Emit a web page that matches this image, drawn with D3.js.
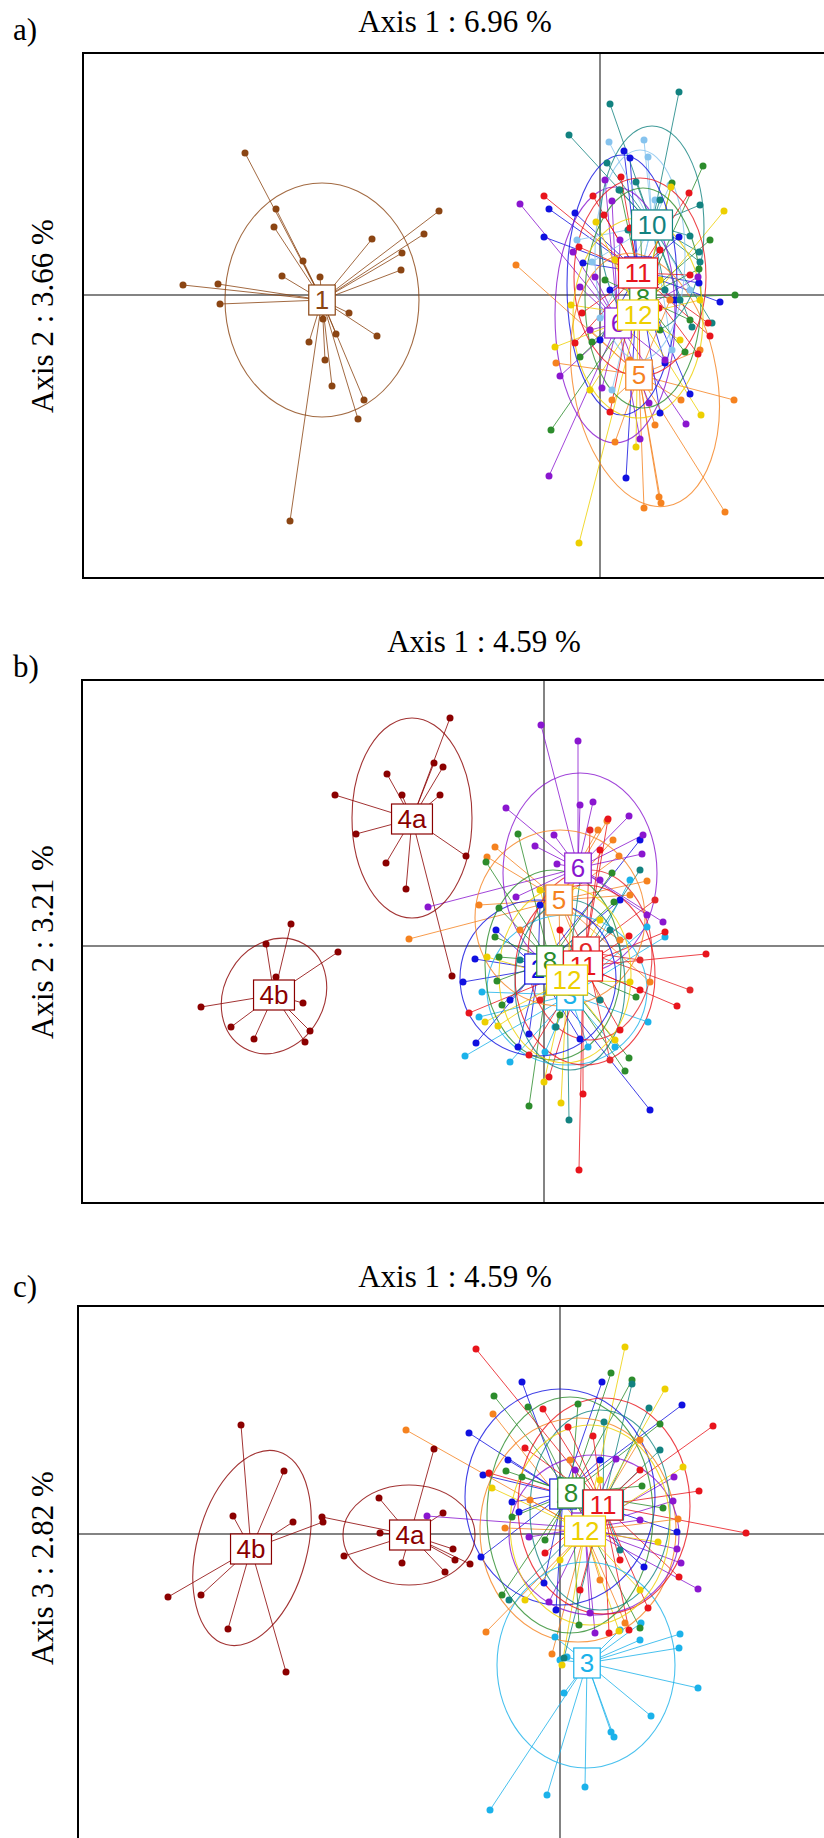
<!DOCTYPE html>
<html>
<head>
<meta charset="utf-8">
<script src="https://cdn.jsdelivr.net/npm/d3@7"></script>
<style>
  body { margin: 0; background: #fff; }
  .ttl { font-family: "Liberation Serif", "Times New Roman", serif; font-size: 31px; fill: #000; }
  .lab text { font-family: "Liberation Sans", Arial, sans-serif; font-size: 26px; }
</style>
</head>
<body>
<script>
// colours of the groups
var colours = {"1":"#8B4513","2":"#1010E0","3":"#1BB2EA","4a":"#8B0000","4b":"#8B0000","5":"#F5821F",
  "6":"#8A16CF","7":"#86C3EE","8":"#2C8C2C","9":"#E3262A","10":"#128280","11":"#E8141C","12":"#EDCF00"};

// ---------- a) Axis 1 / Axis 2 ----------
var groupsA = ["1","2","5","6","7","8","10","11","12"];
var centroidsA = [[-2.78,-0.05],[0.38,0.23],[0.39,-0.80],[0.18,-0.28],[0.52,0.70],[0.43,-0.03],[0.52,0.70],[0.38,0.22],[0.38,-0.20]];
var ellipsesA = [[-2.78,-0.05,0.97,1.17,0],[0.22,0.10,0.55,1.30,0],[0.45,-0.85,0.72,1.28,-10],[0.15,-0.20,0.60,1.28,0],
  [0.40,0.40,0.45,1.05,0],[0.43,-0.03,0.58,1.10,0],[0.52,0.67,0.52,1.02,0],[0.40,0.18,0.66,0.99,0],[0.38,-0.23,0.65,1.00,0]];
var pointsA = [
  [[-3.55,1.42],[-3.24,0.86],[-3.26,0.68],[-2.97,0.34],[-3.18,0.19],[-2.80,0.18],[-2.28,0.56],[-1.98,0.42],[-1.99,0.25],
   [-4.17,0.10],[-3.82,0.11],[-3.80,-0.09],[-2.51,-0.18],[-2.23,-0.41],[-2.77,-0.24],[-2.64,-0.39],[-2.91,-0.47],[-2.75,-0.65],
   [-2.68,-0.91],[-2.36,-1.05],[-2.42,-1.24],[-1.61,0.84],[-1.76,0.61],[-3.10,-2.26]],
  [[0.24,1.44],[0.30,1.37],[-0.51,0.86],[-0.25,0.82],[-0.56,0.58],[-0.17,0.32],[0.79,0.58],[0.99,0.12],[1.20,-0.07],
   [0.90,-0.99],[0.60,-1.18],[0.65,-0.68],[0.26,-1.83],[0.00,-0.45],[0.50,-0.25],[0.10,0.05],[0.75,-0.05]],
  [[-0.84,0.30],[-0.44,-0.68],[0.12,-1.05],[0.81,-1.05],[1.34,-1.05],[0.15,-1.47],[0.55,-1.30],[0.44,-2.13],[0.59,-2.02],
   [0.61,-2.08],[1.25,-2.17],[-0.10,-0.35],[0.70,-0.05],[1.00,-0.55],[0.30,-0.65]],
  [[-0.80,0.91],[0.05,1.15],[0.12,0.94],[-0.27,0.43],[-0.20,0.08],[-0.05,0.18],[-0.40,-0.81],[0.02,-0.93],[0.86,-1.29],
   [0.49,-1.08],[0.98,0.18],[0.40,-1.44],[-0.51,-1.81],[0.20,0.55],[0.65,-0.65],[-0.10,-0.35]],
  [[0.09,1.53],[0.44,1.55],[0.48,1.38],[0.70,1.10],[-0.23,0.55],[-0.08,0.33],[0.55,0.95],[0.40,0.20],[0.12,-0.95],
   [0.00,-0.23],[0.72,-0.55],[0.90,0.05]],
  [[1.03,1.29],[0.72,1.12],[0.20,1.05],[0.99,0.26],[1.35,0.00],[0.85,-0.57],[-0.08,-0.47],[-0.49,-1.35],[-0.20,-0.62],
   [0.40,0.80],[1.10,0.55],[0.05,0.15],[0.60,-0.35],[0.90,-0.25]],
  [[0.79,2.03],[0.10,1.91],[-0.31,1.60],[0.07,1.32],[0.19,1.05],[0.36,1.13],[0.60,0.95],[0.99,0.43],[1.00,0.33],
   [1.12,-0.28],[0.92,-0.32],[0.80,-0.05],[0.65,0.05],[0.90,0.59],[0.28,0.65],[1.00,0.90]],
  [[-0.56,0.99],[-0.07,0.99],[0.21,1.18],[0.89,1.02],[0.04,0.80],[1.08,-0.28],[1.10,-0.41],[0.98,-0.59],[0.10,-1.17],
   [-0.25,-0.48],[-0.21,0.48],[0.59,-0.13],[-0.18,-0.18],[0.60,0.45],[0.30,0.67],[0.90,0.20],[0.40,-0.70]],
  [[1.24,0.84],[0.71,1.08],[-0.04,0.73],[-0.45,-0.52],[-0.29,-0.10],[1.01,-1.20],[0.36,-1.52],[-0.21,-2.48],[0.80,-0.45],
   [0.15,0.35],[0.60,0.15],[1.00,-0.05],[-0.10,-0.95]]
];

// ---------- b) Axis 1 / Axis 2 ----------
var groupsB = ["2","3","4a","4b","5","6","8","9","10","11","12"];
var centroidsB = [[-0.06,-0.23],[0.26,-0.49],[-1.32,1.27],[-2.70,-0.49],[0.15,0.46],[0.34,0.78],[0.06,-0.15],[0.42,-0.06],
  [0.23,-0.34],[0.39,-0.20],[0.23,-0.34]];
var ellipsesB = [[-0.06,-0.32,0.78,0.78,0],[0.23,-0.44,0.80,0.75,0],[-1.32,1.28,0.60,1.00,0],[-2.70,-0.50,0.50,0.60,30],
  [0.16,0.28,0.85,0.88,0],[0.36,0.73,0.77,1.00,0],[0.09,-0.19,0.68,0.95,0],[0.46,-0.09,0.62,0.85,0],[0.26,-0.39,0.55,0.85,0],
  [0.41,-0.29,0.70,0.90,0],[0.21,-0.29,0.66,0.88,0]];
var pointsB = [
  [[-0.69,-0.13],[-0.81,-0.36],[-0.68,-0.97],[-0.15,-0.88],[-0.26,-1.01],[0.36,-0.93],[1.06,-1.64],[-0.48,0.16],[0.76,0.46],
   [-0.04,0.41],[0.56,-0.29],[-0.34,-0.54],[0.16,-0.04],[0.96,1.06]],
  [[-0.62,-0.46],[-0.65,-0.71],[-0.79,-1.10],[-0.34,-1.16],[1.03,0.19],[1.21,0.09],[1.04,-0.76],[0.71,-1.01],[0.44,-1.01],
   [0.01,-1.06],[0.11,-0.81],[0.56,-0.14],[0.86,0.66]],
  [[-0.94,2.28],[-1.10,1.83],[-1.01,1.79],[-1.57,1.72],[-1.42,1.51],[-1.04,1.51],[-2.09,1.51],[-1.88,1.12],[-1.58,0.83],
   [-1.38,0.57],[-0.78,0.90],[-0.92,-0.30]],
  [[-2.53,0.22],[-2.78,0.02],[-2.06,-0.06],[-2.68,-0.31],[-3.43,-0.61],[-2.41,-0.57],[-3.13,-0.81],[-2.90,-0.93],[-2.34,-0.85],
   [-2.39,-0.96]],
  [[0.63,1.25],[0.69,1.06],[0.75,0.90],[0.54,1.16],[-0.49,0.99],[-0.57,0.89],[-0.65,0.41],[1.03,0.65],[0.86,0.51],
   [-1.35,0.07],[1.06,-0.36],[0.76,0.06],[0.16,-0.14],[0.56,-0.54],[-0.24,0.16]],
  [[-0.03,2.21],[0.34,2.05],[0.36,1.41],[0.49,1.44],[-0.38,1.38],[0.85,1.30],[0.99,1.11],[0.98,0.92],[0.10,1.11],
   [-0.09,1.00],[-0.28,0.49],[-1.16,0.39],[1.03,0.31],[1.19,0.24],[0.13,0.82],[0.56,0.66]],
  [[-0.26,1.12],[-0.58,0.84],[0.68,0.73],[0.70,0.44],[-0.45,0.38],[-0.49,0.09],[-0.45,-0.11],[-0.47,-0.35],[-0.42,-0.59],
   [0.85,-1.12],[0.81,-1.25],[-0.15,-1.60],[0.92,-0.51],[0.16,-0.69],[0.46,0.06]],
  [[0.46,1.16],[1.11,0.46],[1.46,-0.44],[0.66,-1.14],[-0.04,-0.54],[0.16,0.46],[0.96,-0.14]],
  [[0.25,-1.74],[0.12,-0.81],[0.56,-0.54],[0.96,0.76],[-0.24,-0.14],[0.66,0.16],[0.36,0.66]],
  [[0.64,1.27],[1.21,0.14],[1.62,-0.08],[1.33,-0.60],[0.39,-1.48],[0.35,-2.24],[0.85,0.10],[0.05,-1.31],[-0.15,-1.09],
   [-0.75,-0.67],[0.56,0.96],[0.96,-0.44],[0.16,0.16],[0.76,-0.84]],
  [[0.00,-1.36],[0.17,-1.57],[-0.57,-0.11],[-0.59,-0.76],[-0.46,-0.80],[0.86,-0.36],[0.56,0.26],[0.31,0.86],[-0.04,0.56],
   [0.71,-0.94],[0.36,-0.54]]
];

// ---------- c) Axis 1 / Axis 3 ----------
var groupsC = ["2","3","4a","4b","5","6","8","10","11","12"];
var centroidsC = [[0.03,0.40],[0.27,-1.29],[-1.50,-0.01],[-3.09,-0.15],[0.25,0.03],[0.25,0.06],[0.11,0.41],[0.43,0.29],
  [0.43,0.29],[0.25,0.03]];
var ellipsesC = [[0.00,0.37,0.95,1.08,0],[0.26,-1.31,0.89,1.03,0],[-1.51,-0.01,0.66,0.50,0],[-3.08,-0.14,0.55,1.00,15],
  [0.18,0.04,0.98,1.12,0],[0.34,-0.01,0.85,0.80,0],[0.10,0.19,0.83,1.18,0],[0.40,0.24,0.70,1.00,0],[0.44,0.28,0.86,1.08,0],
  [0.30,0.09,0.80,1.00,0]];
var pointsC = [
  [[-0.38,1.52],[0.42,1.52],[-0.91,1.01],[1.22,1.29],[-0.52,0.74],[-0.77,0.59],[-0.48,0.32],[-0.41,0.22],[-0.79,-0.23],
   [-0.16,-0.49],[-0.04,-0.76],[1.17,0.02],[0.84,-0.33],[0.40,0.74],[0.25,-0.06]],
  [[1.20,-1.00],[1.19,-1.14],[1.38,-1.54],[0.91,-1.82],[0.51,-1.98],[0.54,-2.03],[0.25,-2.53],[-0.13,-2.61],[-0.70,-2.76],
   [0.04,-1.59],[0.81,-0.89],[0.80,-1.06],[-0.05,-1.03],[0.07,-1.23],[0.00,-1.26],[0.60,-0.96]],
  [[-1.26,0.85],[-1.81,0.36],[-1.17,0.21],[-1.80,0.01],[-2.16,-0.22],[-1.58,-0.29],[-1.07,-0.15],[-1.05,-0.26],[-1.15,-0.38],
   [-0.90,-0.30],[-2.38,0.17]],
  [[-3.19,1.09],[-2.76,0.63],[-3.27,0.18],[-2.67,0.12],[-3.92,-0.63],[-3.59,-0.61],[-3.32,-0.95],[-2.74,-1.38],[-2.37,0.12]],
  [[-1.54,1.04],[-0.67,1.20],[-0.74,-0.98],[-0.08,-1.20],[1.18,0.15],[0.65,-0.89],[-0.55,0.06],[0.10,0.74],[0.80,0.94],
   [0.40,-0.46],[-0.30,0.34]],
  [[1.38,-0.55],[1.14,0.57],[1.13,0.33],[1.17,-0.15],[1.21,-0.29],[0.35,-0.99],[0.30,-0.79],[-1.33,0.18],[-0.31,-0.03],
   [-0.11,-0.68],[0.56,0.75],[0.15,0.64],[0.80,0.14]],
  [[-0.66,1.38],[0.18,1.30],[0.51,1.61],[-0.32,1.27],[1.00,1.10],[0.72,1.54],[-0.54,0.63],[-0.38,0.57],[-0.48,0.17],
   [-0.58,-0.61],[0.82,0.48],[0.19,-0.91],[0.80,-0.94],[1.03,0.26],[-0.15,-0.06]],
  [[0.72,1.50],[0.89,1.26],[0.44,1.12],[-0.51,-0.66],[0.04,-1.24],[0.60,-0.16],[0.00,0.54],[1.00,0.84]],
  [[-0.84,1.85],[1.53,1.08],[1.39,0.43],[1.86,0.01],[0.08,1.07],[0.33,0.98],[1.19,-0.43],[-0.35,0.86],[-0.71,0.61],
   [0.88,-0.74],[0.69,-0.96],[0.49,-0.99],[-0.17,1.25],[-0.15,-0.19],[0.80,0.64],[0.60,-0.26],[0.20,-0.56]],
  [[0.65,1.87],[1.05,1.45],[1.23,0.67],[-0.68,0.46],[-0.35,-0.66],[0.59,-0.97],[0.98,-0.08],[0.02,-1.31],[0.40,0.54],
   [0.00,-0.26],[0.80,-0.56]]
];

// axis limits and titles of each panel
var panels = [
  {tag: "a)", title: "Axis 1 : 6.96 %", ylab: "Axis 2 : 3.66 %", xDom: [-5.17, 2.28], yDom: [-2.83, 2.42],
   box: {x0: 83, x1: 828, y0: 53, y1: 578}, titleX: 455, titleY: 32, tagY: 40, ylabY: 316,
   groups: groupsA, centroids: centroidsA, ellipses: ellipsesA, points: pointsA},
  {tag: "b)", title: "Axis 1 : 4.59 %", ylab: "Axis 2 : 3.21 %", xDom: [-4.62, 2.84], yDom: [-2.57, 2.66],
   box: {x0: 82, x1: 828, y0: 680, y1: 1203}, titleX: 484, titleY: 652, tagY: 677, ylabY: 942,
   groups: groupsB, centroids: centroidsB, ellipses: ellipsesB, points: pointsB},
  {tag: "c)", title: "Axis 1 : 4.59 %", ylab: "Axis 3 : 2.82 %", xDom: [-4.82, 2.68], yDom: [-3.08, 2.28],
   box: {x0: 78, x1: 828, y0: 1306, y1: 1842}, titleX: 455, titleY: 1287, tagY: 1297, ylabY: 1568,
   groups: groupsC, centroids: centroidsC, ellipses: ellipsesC, points: pointsC}
];

var svg = d3.select("body").append("svg")
    .attr("width", 824)
    .attr("height", 1838);

panels.forEach(function (p, pi) {
    var xScale = d3.scaleLinear().domain(p.xDom).range([p.box.x0, p.box.x1]);
    var yScale = d3.scaleLinear().domain(p.yDom).range([p.box.y1, p.box.y0]);

    // titles
    svg.append("text").attr("class", "ttl")
        .attr("x", p.titleX).attr("y", p.titleY)
        .attr("text-anchor", "middle").text(p.title);
    svg.append("text").attr("class", "ttl")
        .attr("x", 13).attr("y", p.tagY).text(p.tag);
    svg.append("text").attr("class", "ttl")
        .attr("transform", "translate(53," + p.ylabY + ") rotate(-90)")
        .attr("text-anchor", "middle").text(p.ylab);

    svg.append("clipPath").attr("id", "clip" + pi)
        .append("rect")
        .attr("x", p.box.x0).attr("y", p.box.y0)
        .attr("width", p.box.x1 - p.box.x0).attr("height", p.box.y1 - p.box.y0);

    var g = svg.append("g").attr("clip-path", "url(#clip" + pi + ")");

    // axes through the origin
    g.append("line")
        .attr("x1", p.box.x0).attr("x2", p.box.x1)
        .attr("y1", yScale(0)).attr("y2", yScale(0))
        .attr("stroke", "#5a5a5a").attr("stroke-width", 1.5);
    g.append("line")
        .attr("x1", xScale(0)).attr("x2", xScale(0))
        .attr("y1", p.box.y0).attr("y2", p.box.y1)
        .attr("stroke", "#5a5a5a").attr("stroke-width", 1.5);

    // stars: centroid to each individual
    p.groups.forEach(function (grp, i) {
        var c = p.centroids[i];
        g.append("g").selectAll("line")
            .data(p.points[i])
            .enter().append("line")
            .attr("x1", xScale(c[0])).attr("y1", yScale(c[1]))
            .attr("x2", function (d) { return xScale(d[0]); })
            .attr("y2", function (d) { return yScale(d[1]); })
            .attr("stroke", colours[grp])
            .attr("stroke-opacity", 0.8)
            .attr("stroke-width", 1);
    });

    // ellipses
    g.selectAll("ellipse")
        .data(p.ellipses)
        .enter().append("ellipse")
        .attr("cx", function (d) { return xScale(d[0]); })
        .attr("cy", function (d) { return yScale(d[1]); })
        .attr("rx", function (d) { return xScale(d[2]) - xScale(0); })
        .attr("ry", function (d) { return yScale(0) - yScale(d[3]); })
        .attr("transform", function (d) {
            return "rotate(" + d[4] + "," + xScale(d[0]) + "," + yScale(d[1]) + ")";
        })
        .attr("fill", "none")
        .attr("stroke", function (d, i) { return colours[p.groups[i]]; })
        .attr("stroke-opacity", 0.8)
        .attr("stroke-width", 1.1);

    // individuals
    p.groups.forEach(function (grp, i) {
        g.append("g").selectAll("circle")
            .data(p.points[i])
            .enter().append("circle")
            .attr("cx", function (d) { return xScale(d[0]); })
            .attr("cy", function (d) { return yScale(d[1]); })
            .attr("r", 3.5)
            .attr("fill", colours[grp]);
    });

    // group labels
    p.groups.forEach(function (grp, i) {
        var c = p.centroids[i];
        var lab = g.append("g").attr("class", "lab");
        var rect = lab.append("rect");
        var txt = lab.append("text")
            .attr("x", xScale(c[0])).attr("y", yScale(c[1]) + 9.3)
            .attr("text-anchor", "middle")
            .attr("fill", colours[grp])
            .text(grp);
        var w = txt.node().getComputedTextLength() + 12;
        rect.attr("x", xScale(c[0]) - w / 2).attr("y", yScale(c[1]) - 15)
            .attr("width", w).attr("height", 30)
            .attr("fill", "#fff")
            .attr("stroke", colours[grp])
            .attr("stroke-width", 1.2);
    });

    // frame
    svg.append("rect")
        .attr("x", p.box.x0).attr("y", p.box.y0)
        .attr("width", p.box.x1 - p.box.x0).attr("height", p.box.y1 - p.box.y0)
        .attr("fill", "none").attr("stroke", "#000").attr("stroke-width", 2);
});
</script>
</body>
</html>
